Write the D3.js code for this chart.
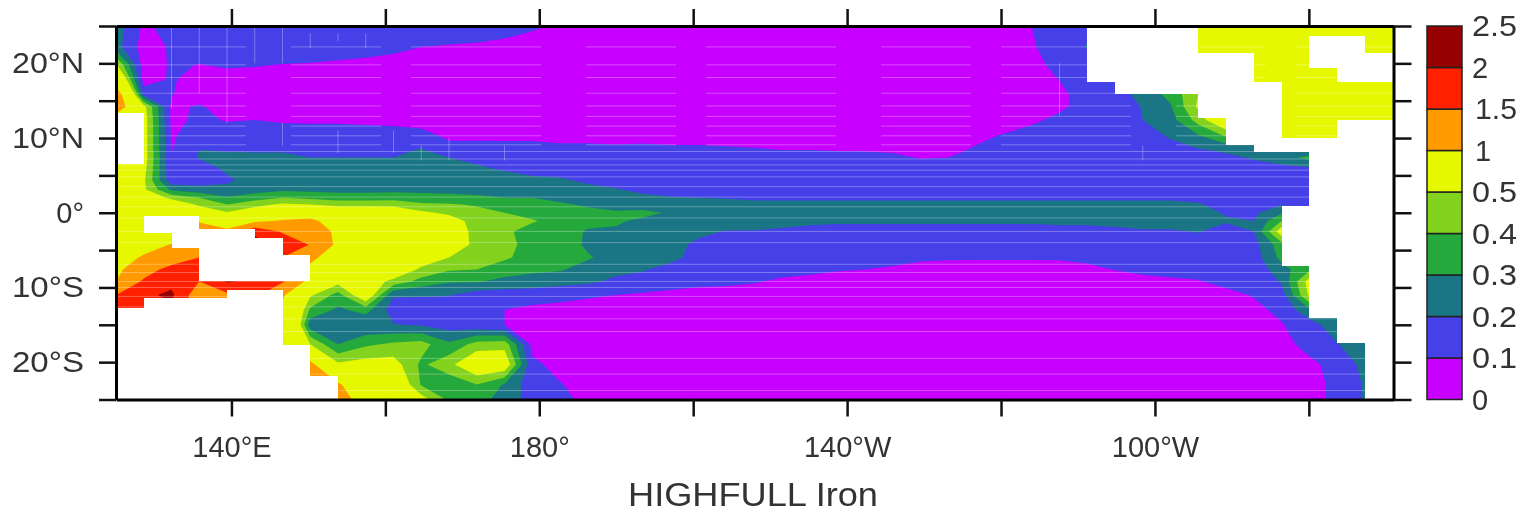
<!DOCTYPE html>
<html>
<head>
<meta charset="utf-8">
<script src="https://d3js.org/d3.v7.min.js"></script>
<style>
  html, body { margin: 0; background: #fff; overflow: hidden; }
  svg { display: block; filter: blur(0.45px); }
  text { font-family: "Liberation Sans", sans-serif; fill: #333; }
</style>
</head>
<body>
<div id="chart"></div>
<script>
/**
 * DATA
 * iron on the model grid, in hundredths, one row per latitude
 * */
const levels = [0, 0.1, 0.2, 0.3, 0.4, 0.5, 1, 1.5, 2, 2.5];
const levelColors = ["#c800ff", "#4640e8", "#1a7585", "#25a83c", "#82d21e", "#e6f800", "#ff9a00", "#ff2000", "#960000"];
const lonStart = 125, lonStep = 3.606;
const latNodes = [25, 22.2, 19.8, 17.8, 15.9, 14.2, 12.4, 10.4, 8.4, 7.4, 6, 4.4, 3.1, 2, 1.1, 0, -1.1, -2.5, -4.3, -6, -7.6, -9.2, -11, -13, -15, -17.6, -20.3, -23, -25];
const ironRows = [
  [25,8,14,15,15,15,15,15,15,15,15,15,14,14,13,11,9,5,5,5,5,5,5,5,5,5,5,5,5,5,5,5,5,10,15,18,70,70,70,70,70,70,70,70,70,70,70],
  [24,6,11,14,14,14,14,14,13,13,12,10,9.5,9,8,7,6,5,5,5,5,5,5,5,5,5,5,5,5,5,5,5,5,9,15,20.5,70,70,70,70,70,70,70,70,70,70,70],
  [52,5,11,9.8,11,10.5,9.8,9.5,9,8,7,6,5,5,5,5,5,5,5,5,5,5,5,5,5,5,5,5,5,5,5,5,5,7,13,16,70,70,70,70,70,70,70,70,70,70,70],
  [78,6,11,6,7,7,6,6,6,5,5,5,5,5,5,5,5,5,5,5,5,5,5,5,5,5,5,5,5,5,5,5,5,6,10.2,14,15,70,70,70,70,70,70,70,70,70,70],
  [120,15,10.5,5,5,5,5,5,5,5,5,5,5,5,5,5,5,5,5,5,5,5,5,5,5,5,5,5,5,5,5,5,5,5,8,14,15,24,33,50,60,70,70,70,70,70,70],
  [125,54,8,11,6,6,6,6,5,5,5,5,5,5,5,5,5,5,5,5,5,5,5,5,5,5,5,5,5,5,5,5,5,5,8.5,13,15,20.5,29,52,60,70,70,70,70,70,70],
  [75,56,8,11.5,9.5,10,9,9,9,8.5,8,7.5,6,5,5,5,5,5,5,5,5,5,5,5,5,5,5,5,5,5,5,5,5,8.5,12,14,16,20,26,44,65,70,70,70,70,70,70],
  [75,56,9,14,14,14,14,13,13,13,13,12,8.5,8.5,8,8,7.5,7.5,7.5,8,8,8,8,7,7,7,7,6,6,6,6,8,10.5,13,14,15,16,17,21,30,42,30,70,70,70,70,70],
  [70,56,9.5,20,19,18.5,18.5,16,16,16,16.5,21,12.5,12.5,13,13,12,12,11.5,11.5,11,11,10.7,10.5,10,10,9.7,9.5,9,7.5,8,11,13,14,14,15,16,16,17.5,19,21.5,22,22,22,70,70,70],
  [65,56,11,21,23,23,23,20,20,20,20,24,20,18,16,14.5,14,13.5,13,13,12.5,12.5,12.5,12,12,12,12,12,11.5,9.5,10,13,14,15,15,15,16,16,16,17,18,21,26,33,30,30,30],
  [62,54,12,14.5,22.5,24,24,23,23,23,23,25,23,21,19,17,16,15.5,15,15,14.5,14.5,14.5,14,14,14,14,14,14,14,14,14,14,14,14,14,15,15,15,15,16,17,17,19,30,30,30],
  [60,52,13,14,18,25,25,25,25,25,25,26,25,24,23,21.5,21,18.5,17,16.5,16,16,15.5,15,15,15,15,15,15,15,15,15,15,15,15,15,15,15,15,15,15,15,15,15,30,30,30],
  [60,52,28,24,23,25,28,27,27,27,27,28,27,26,25,24,24,22,20.5,18,17,16,16,15,15,15,15,15,15,15,15,15,15,15,15,15,15,15,15,15,14,14,14,14,30,30,30],
  [62,62,47,40,31,36,40,38,35,35,36,33,33,32,30,30,28,26,24,22,20.5,20,19.5,18,18,18,18,18,18,18,18,18,18,18,18,18,18,18,18,17,15,14,14,14,30,30,30],
  [65,65,60,48,40,46,52,50,47,47,47,42,41,39,34,33,31,29,27,26,24,23,23,23,23,23,23,23,23,23,23,23,23,23,23,23,23,23,23,21,16,16,19,15,30,30,30],
  [66,62,65,60,51,60,65,75,62,62,60,52,48,43,40,36,34,32,31,32,29,26,25,25,25,25,25,25,25,25,25,25,25,25,25,25,25,25,25,24,19,18,29,30,30,30,30],
  [66,60,62,95,70,90,105,110,78,70,68,60,55,46,44,41,36,33,31,28.5,26,26,25,24,24,23,22,22,22,22,22,22,22,22,23,23,24,24,24,24,21,20,40,40,30,30,30],
  [70,70,75,130,110,185,145,130,90,70,68,70,57,47,42,36,35,29,29,27,25,22,19.5,19.5,18,15.5,15,15,15,15,15,15,15,15,15,15.5,17,19,19,20.5,16,20,57,40,30,30,30],
  [70,85,102,120,160,230,180,148,90,68,65,62,58,47,43,36.5,35,28.5,28,26,23,18,15,14,14,14,14,14,14,14,14,14,14,14,14,14,14,15,15,15,15,16,36,40,30,30,30],
  [80,105,125,150,170,200,150,110,75,60,62,57,50,46,41.5,36,34,31,26,24,23,16,15,14,14,14,14,14,12.5,11.5,11,11,11,11,11,12,13,14,15,15,15,15,33,40,30,30,30],
  [90,130,165,175,180,190,160,90,62,60,60,48,41,40,35,32,31,26,22.5,21,16,15,14,14,12,11.5,10.5,10,9,7,6.5,6,6,6,6.5,8,10.3,11.5,12,13,14,13,26,38,30,30,30],
  [100,157,185,150,205,190,155,85,54,57,47,36,31,31,27,26,24,22,18,15,12.5,11.5,11,10.5,9,8,7,6,5,5,5,5,5,5,5,5,5,8,9,9.5,12,12,21,55,30,30,30],
  [150,190,210,115,140,160,105,52,36,62,21,21,20.5,15,15,14,12,11,10,9,8.5,8,8,7,6,5,5,5,5,5,5,5,5,5,5,5,5,5,5,5,8,10.5,15,52,30,30,30],
  [180,180,185,120,140,140,90,38,28,34,15,14,14,13,10,8,8,7,7,6,6,5,5,5,5,5,5,5,5,5,5,5,5,5,5,5,5,5,5,5,5,8,12,28,30,30,30],
  [180,180,180,120,120,100,98,24,25,21,20.5,19,15,13,10,5,5,5,5,5,5,5,5,5,5,5,5,5,5,5,5,5,5,5,5,5,5,5,5,5,5,5,9.5,15,27,30,30],
  [170,170,170,120,110,100,70,50,30,38,42,44,32,44,46,7,5,5,5,5,5,5,5,5,5,5,5,5,5,5,5,5,5,5,5,5,5,5,5,5,5,5,7,13,19.5,26,30],
  [170,170,170,120,100,100,90,110,52,55,55,38,47,62,60,12,7,5,5,5,5,5,5,5,5,5,5,5,5,5,5,5,5,5,5,5,5,5,5,5,5,5,5,8,13,23,30],
  [170,170,170,120,100,100,90,110,105,70,66,39,33,40,29,14,10.5,7,5,5,5,5,5,5,5,5,5,5,5,5,5,5,5,5,5,5,5,5,5,5,5,5,5,7,12,21,30],
  [170,170,170,120,100,100,90,110,115,85,70,55,38,33,27,15,13,7,5,5,5,5,5,5,5,5,5,5,5,5,5,5,5,5,5,5,5,5,5,5,5,5,5,7,12,21,30]
];
// land cells: first column, end column, north edge, south edge
const landCells = [
  [0, 1, 13.4, 6.55], [1, 3, -0.5, -2.65], [2, 3, -2.65, -4.7], [3, 5, -2.2, -9.1],
  [5, 6, -3.35, -9.1], [6, 7, -5.6, -9.1], [0, 1, -12.7, -25], [1, 4, -11.35, -25],
  [4, 6, -10.3, -25], [6, 7, -17.65, -25], [7, 8, -21.8, -25],
  [35, 36, 25, 17.55], [36, 39, 25, 15.9], [39, 40, 21.4, 12.7], [40, 41, 21.4, 9.1],
  [41, 42, 17.55, 8.15], [42, 43, 10.05, 8.15], [43, 44, 23.7, 19.4], [44, 45, 23.7, 17.55],
  [45, 46, 21.4, 17.55], [43, 44, 10.05, 8.15], [44, 46, 12.4, 8.15], [43, 46, 8.15, 0.85],
  [42, 46, 0.85, -7.1], [43, 46, -7.1, -14.05], [44, 46, -14.05, -17.5], [45, 46, -17.5, -25]
];
// faint seams left in the shading
const seamLats = [22.2, 19.8, 18.1, 16, 14.3, 12.9, 11.6, 10.3, 9.1, 8.2, 7.2, 6.4, 5.7, 4.8, 3.5, 2.1, 0.8, -0.7, -2.5, -4, -6.9, -8, -9.2, -10, -11.2, -12.6, -14.2, -15.9, -19.5, -21.6, -23.8];
const seamStubs = [[2, 25, 14], [3, 25, 16], [4, 25, 12], [5, 25, 20], [6, 25, 20], [6, 12, 9], [7, 24, 22], [8, 24, 23], [8, 11, 8], [9, 24, 22], [10, 11, 8], [11, 9, 7], [12, 10, 7], [14, 9, 7], [34, 20, 13], [37, 9, 7]];

const xTicks = [140, 160, 180, 200, 220, 240, 260, 280];
const xLabels = { 140: "140°E", 180: "180°", 220: "140°W", 260: "100°W" };
const yTicks = [-25, -20, -15, -10, -5, 0, 5, 10, 15, 20, 25];
const yLabels = { "-20": "20°S", "-10": "10°S", 0: "0°", 10: "10°N", 20: "20°N" };

/**
 * CONSTANTS AND GLOBALS
 * */
const width = 1532,
  height = 514,
  margin = { top: 26, bottom: 114.5, left: 116, right: 138.5 };

const nCols = ironRows[0].length,
  nRows = ironRows.length;

const svg = d3.select("#chart").append("svg").attr("width", width).attr("height", height);

const xScale = d3.scaleLinear().domain([125, 291]).range([margin.left, width - margin.right]);
const yScale = d3.scaleLinear().domain([-25, 25]).range([height - margin.bottom, margin.top]);

// contour grid coordinates to lon and lat
const colToLon = d3.scaleLinear().domain([0.5, nCols - 0.5]).range([lonStart, lonStart + lonStep * (nCols - 1)]);
const rowToLat = d3.scaleLinear().domain(latNodes.map((d, i) => i + 0.5)).range(latNodes);
const path = d3.geoPath(d3.geoTransform({
  point(c, r) {
    this.stream.point(xScale(colToLon(c)), yScale(rowToLat(r)));
  }
}));
const cellX = k => xScale(lonStart + lonStep * k);

svg.append("clipPath").attr("id", "plot-clip").append("rect")
  .attr("x", margin.left).attr("y", margin.top)
  .attr("width", width - margin.left - margin.right)
  .attr("height", height - margin.top - margin.bottom);

const plot = svg.append("g").attr("clip-path", "url(#plot-clip)");

/**
 * FILLED CONTOURS
 * */
const contours = d3.contours()
  .size([nCols, nRows])
  .thresholds(levels.slice(0, -1))(ironRows.flat().map(d => d / 100));

plot.selectAll("path.band")
  .data(contours)
  .join("path")
  .attr("class", "band")
  .attr("d", path)
  .attr("fill", (d, i) => levelColors[i]);

// seams
plot.selectAll("line.seam")
  .data(seamLats)
  .join("line")
  .attr("class", "seam")
  .attr("x1", margin.left).attr("x2", width - margin.right)
  .attr("y1", d => yScale(d)).attr("y2", d => yScale(d))
  .attr("stroke", "#fff")
  .attr("stroke-opacity", 0.3)
  .attr("stroke-dasharray", d => (d > 9 ? "130 45 90 30" : null));

plot.selectAll("line.stub")
  .data(seamStubs)
  .join("line")
  .attr("class", "stub")
  .attr("x1", d => cellX(d[0])).attr("x2", d => cellX(d[0]))
  .attr("y1", d => yScale(d[1])).attr("y2", d => yScale(d[2]))
  .attr("stroke", "#fff")
  .attr("stroke-opacity", 0.3);

// land
plot.selectAll("rect.land")
  .data(landCells)
  .join("rect")
  .attr("class", "land")
  .attr("x", d => Math.round(cellX(d[0])))
  .attr("width", d => Math.round(cellX(d[1])) - Math.round(cellX(d[0])))
  .attr("y", d => Math.round(yScale(d[2])))
  .attr("height", d => Math.round(yScale(d[3])) - Math.round(yScale(d[2])))
  .attr("fill", "#fff")
  .attr("shape-rendering", "crispEdges");

/**
 * AXES
 * */
function styleAxis(g) {
  g.select(".domain").attr("stroke", "#000").attr("stroke-width", 3);
  g.selectAll(".tick line").attr("stroke", "#111").attr("stroke-width", 2.5);
  g.selectAll("text").attr("font-size", 29).attr("fill", "#333");
}

svg.append("g").attr("transform", `translate(0,${height - margin.bottom})`)
  .call(d3.axisBottom(xScale).tickValues(xTicks).tickSize(17).tickSizeOuter(0).tickPadding(20).tickFormat(d => xLabels[d] || ""))
  .attr("font-family", null)
  .call(styleAxis);
svg.append("g").attr("transform", `translate(0,${margin.top})`)
  .call(d3.axisTop(xScale).tickValues(xTicks).tickSize(17).tickSizeOuter(0).tickFormat(""))
  .call(styleAxis);
svg.append("g").attr("transform", `translate(${margin.left},0)`)
  .call(d3.axisLeft(yScale).tickValues(yTicks).tickSize(17).tickSizeOuter(0).tickPadding(15).tickFormat(d => yLabels[d] || ""))
  .attr("font-family", null)
  .call(styleAxis)
  .call(g => g.selectAll("text")
    .filter(d => d !== 0 && yLabels[d])
    .attr("textLength", 72)
    .attr("lengthAdjust", "spacingAndGlyphs"));
svg.append("g").attr("transform", `translate(${width - margin.right},0)`)
  .call(d3.axisRight(yScale).tickValues(yTicks).tickSize(18).tickSizeOuter(0).tickFormat(""))
  .call(styleAxis);

/**
 * COLOUR BAR
 * */
const barScale = d3.scaleBand()
  .domain(d3.range(levelColors.length))
  .range([height - margin.bottom, margin.top]);

svg.append("g").selectAll("rect")
  .data(levelColors)
  .join("rect")
  .attr("x", 1427)
  .attr("width", 35)
  .attr("y", (d, i) => barScale(i))
  .attr("height", barScale.bandwidth())
  .attr("fill", d => d)
  .attr("stroke", "#222")
  .attr("stroke-width", 1.5);

svg.append("g").selectAll("text")
  .data(levels)
  .join("text")
  .attr("x", d => (d === 1 || d === 1.5 ? 1475 : 1472))
  .attr("y", (d, i) => (i === levels.length - 1 ? barScale.range()[1] : barScale(i) + barScale.bandwidth()))
  .attr("dy", "0.36em")
  .attr("font-size", 29)
  .attr("textLength", d => (String(d).length > 1 ? (d === 1.5 ? 42 : 45) : null))
  .attr("lengthAdjust", "spacingAndGlyphs")
  .text(d => d);

svg.append("text")
  .attr("x", 628)
  .attr("y", 506)
  .attr("font-size", 33)
  .attr("textLength", 250)
  .attr("lengthAdjust", "spacingAndGlyphs")
  .attr("fill", "#444")
  .text("HIGHFULL Iron");
</script>
</body>
</html>
